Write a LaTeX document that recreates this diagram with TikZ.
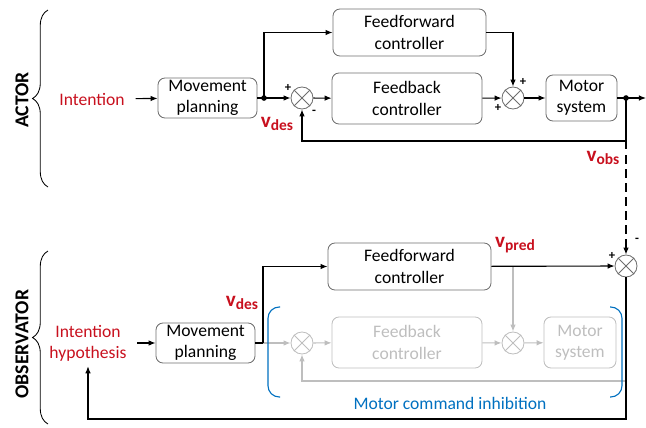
\documentclass[tikz,border=0pt]{standalone}
\usepackage{fontspec}
\setmainfont{Carlito}
\usetikzlibrary{arrows.meta,decorations.pathreplacing}
\definecolor{sigred}{RGB}{200,16,30}
\definecolor{inhblue}{RGB}{0,112,192}
\definecolor{boxgray}{RGB}{110,110,110}
\definecolor{ghost}{RGB}{190,190,190}
\newcommand{\vsig}[1]{{\fontsize{15}{16}\selectfont\bfseries v\raisebox{-0.35ex}{\fontsize{11}{12}\selectfont #1}}}

\begin{document}
\begin{tikzpicture}[x=0.025cm,y=-0.025cm,
  font=\fontsize{12.5}{15}\selectfont,
  >={Latex[length=5pt,width=4pt]},
  line width=0.8pt,
  box/.style={draw=boxgray,line width=0.6pt,rounded corners=5pt,align=center,inner sep=0pt},
  ghostbox/.style={box,draw=ghost,text=ghost},
  sum/.style={draw=boxgray,line width=0.6pt,circle,minimum size=0.55cm,inner sep=0pt},
  ghostsum/.style={sum,draw=ghost},
  sgn/.style={font=\bfseries\fontsize{9}{10}\selectfont,inner sep=0pt},
  side/.style={rotate=90,font=\bfseries\fontsize{14}{16}\selectfont},
  redtext/.style={text=sigred,align=center}]
\useasboundingbox (0,0) rectangle (646,428);

% actor
\node[side] (actor) at (22,100) {ACTOR};
\draw[line width=0.6pt,decorate,decoration={brace,amplitude=11pt}] (48,187) -- (48,10);
\node[redtext] (intent) at (92,99) {Intention};
\node[box,minimum width=2.475cm,minimum height=1cm] (plan1) at (207.5,98) {Movement\\planning};
\node[box,minimum width=3.825cm,minimum height=1.175cm] (ff1) at (409.5,32.5) {Feedforward\\controller};
\node[box,minimum width=3.75cm,minimum height=1.275cm] (fb1) at (407,98.5) {Feedback\\controller};
\node[box,minimum width=1.775cm,minimum height=1.15cm] (motor1) at (581.5,98) {Motor\\system};
\node[sum] (sum1) at (302,98) {};
\node[sum] (sum2) at (513,98) {};
\coordinate (split1) at (264,98);
\coordinate (split2) at (626,98);
\coordinate (out1) at (646,98);
\coordinate (fbk1) at (626,141);

\draw[->,shorten <=4pt] (intent) -- (plan1);
\draw[->] (plan1) -- (sum1);
\draw[->] (split1) |- (ff1.west);
\draw[->] (sum1) -- (fb1);
\draw[->] (fb1) -- (sum2);
\draw[->] (ff1.east) -| (sum2);
\draw[->] (sum2) -- (motor1);
\draw[->] (motor1) -- (out1);
\draw[->] (split2) -- (fbk1) -| (sum1);
\fill (split1) circle (2pt);
\fill (split2) circle (2pt);

\node[sgn] (p1) at (288,88) {+};
\node[sgn] (m1) at (314,112) {-};
\node[sgn] (p2) at (523,82) {+};
\node[sgn] (p3) at (498,108) {+};
\node[text=sigred] (vdes1) at (277,124) {\vsig{des}};
\node[text=sigred] (vobs) at (603,158) {\vsig{obs}};

% observer
\node[side] (observer) at (22,344) {OBSERVATOR};
\draw[line width=0.6pt,decorate,decoration={brace,amplitude=11pt}] (48,424) -- (48,251);
\node[redtext] (hyp) at (88,343) {Intention\\hypothesis};
\node[box,minimum width=2.475cm,minimum height=1cm] (plan2) at (205.5,343) {Movement\\planning};
\node[box,minimum width=4.075cm,minimum height=1.175cm] (ff2) at (409.5,266.5) {Feedforward\\controller};
\node[ghostbox,minimum width=3.75cm,minimum height=1.275cm] (fb2) at (407,342.5) {Feedback\\controller};
\node[ghostbox,minimum width=1.8cm,minimum height=1.275cm] (motor2) at (580,342.5) {Motor\\system};
\node[sum] (sum3) at (626,266) {};
\node[ghostsum] (sum4) at (302,343) {};
\node[ghostsum] (sum5) at (513,343) {};
\coordinate (split3) at (263,343);
\coordinate (tap) at (513,266);
\coordinate (gloop) at (626,381);
\coordinate (fbk2) at (626,419);

\draw[ghost,->] (split3) -- (sum4);
\draw[ghost,->] (sum4) -- (fb2);
\draw[ghost,->] (fb2) -- (sum5);
\draw[ghost,->] (sum5) -- (motor2);
\draw[ghost,->] (tap) -- (sum5);
\draw[ghost,->] (gloop) -| (sum4);

\draw[->,shorten <=4pt] (hyp) -- (plan2);
\draw (plan2) -- (split3);
\draw[->] (split3) |- (ff2.west);
\draw[->] (ff2) -- (sum3);
\draw[->,dashed,dash pattern=on 6pt off 4pt] (fbk1) -- (sum3);
\draw[->] (sum3) -- (fbk2) -| (hyp);

\foreach \s in {sum1,sum2,sum3}
  \draw[boxgray,line width=0.6pt] (\s.north west) -- (\s.south east) (\s.north east) -- (\s.south west);
\foreach \s in {sum4,sum5}
  \draw[ghost,line width=0.6pt] (\s.north west) -- (\s.south east) (\s.north east) -- (\s.south west);

\draw[inhblue,rounded corners=8pt] (280,307) -- (268,307) -- (268,397) -- (280,397);
\draw[inhblue,rounded corners=8pt] (610,307) -- (622,307) -- (622,397) -- (610,397);
\node[text=inhblue] (inh) at (450,403) {Motor command inhibition};

\node[sgn] (p4) at (612,256) {+};
\node[sgn] (m2) at (637,240) {-};
\node[text=sigred] (vdes2) at (242,303) {\vsig{des}};
\node[text=sigred] (vpred) at (515,245) {\vsig{pred}};
\end{tikzpicture}
\end{document}
